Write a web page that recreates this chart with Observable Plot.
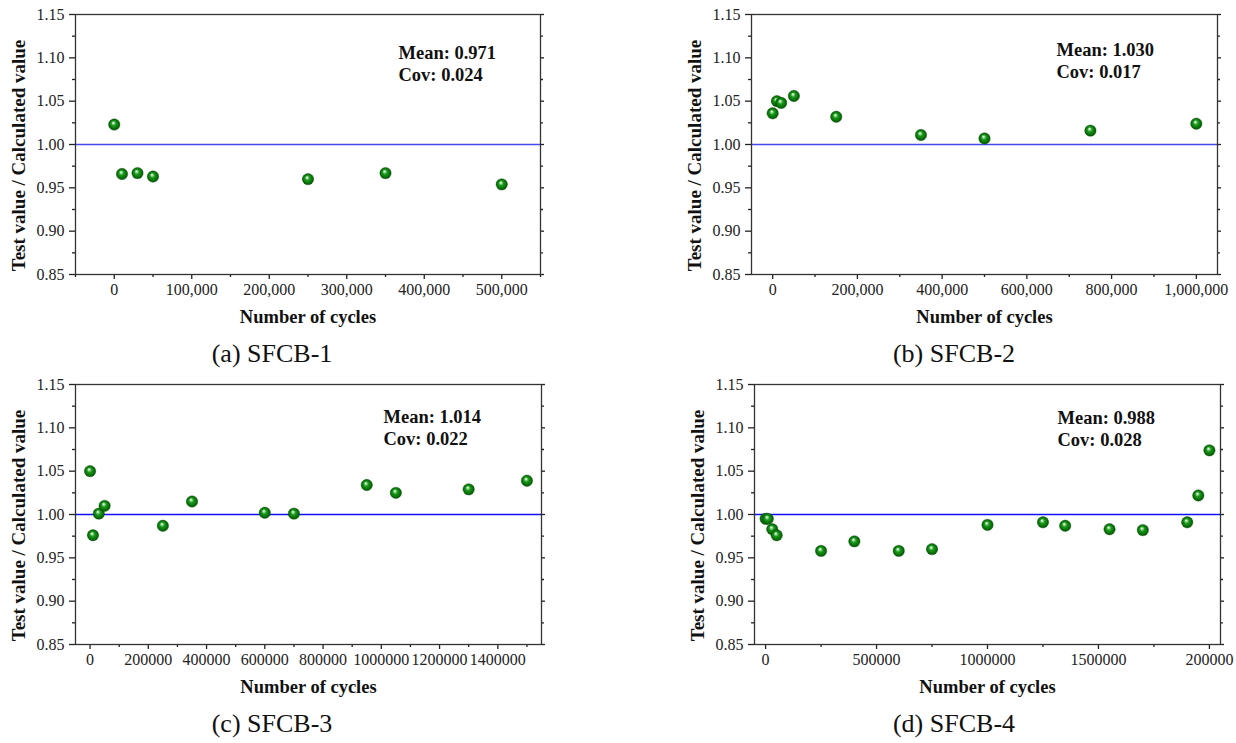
<!DOCTYPE html>
<html><head><meta charset="utf-8">
<script src="https://cdn.jsdelivr.net/npm/d3@7"></script>
<script src="https://cdn.jsdelivr.net/npm/@observablehq/plot@0.6"></script>
<style>
body{margin:0;background:#fff;}
#root{position:relative;width:1236px;height:743px;overflow:hidden;font-family:"Liberation Serif","Times New Roman",serif;background:#fff;}
.panel{position:absolute;width:618px;height:371px;}
.panel svg{position:absolute;left:0;top:0;overflow:visible;}
.caption{position:absolute;font-size:26px;color:#111;transform:translate(-50%,-50%);white-space:nowrap;line-height:1;}
</style></head><body>
<svg width="0" height="0" style="position:absolute">
<defs>
<radialGradient id="ball" cx="0.5" cy="0.5" r="0.5" fx="0.4" fy="0.33">
<stop offset="0" stop-color="#ffffff"/>
<stop offset="0.16" stop-color="#a8e0a8"/>
<stop offset="0.42" stop-color="#1a9a1a"/>
<stop offset="1" stop-color="#005800"/>
</radialGradient>
</defs></svg>
<div id="root"></div>
<script>
// ---- data ----
const cyclesA = [0, 10000, 30000, 50000, 250000, 350000, 500000];
const ratioA  = [1.023, 0.966, 0.967, 0.963, 0.960, 0.967, 0.954];

const cyclesB = [0, 10000, 20000, 50000, 150000, 350000, 500000, 750000, 1000000];
const ratioB  = [1.036, 1.050, 1.048, 1.056, 1.032, 1.011, 1.007, 1.016, 1.024];

const cyclesC = [0, 10000, 30000, 50000, 250000, 350000, 600000, 700000, 950000, 1050000, 1300000, 1500000];
const ratioC  = [1.050, 0.976, 1.001, 1.010, 0.987, 1.015, 1.002, 1.001, 1.034, 1.025, 1.029, 1.039];

const cyclesD = [0, 10000, 30000, 50000, 250000, 400000, 600000, 750000, 1000000, 1250000, 1350000, 1550000, 1700000, 1900000, 1950000, 2000000];
const ratioD  = [0.995, 0.995, 0.983, 0.976, 0.958, 0.969, 0.958, 0.960, 0.988, 0.991, 0.987, 0.983, 0.982, 0.991, 1.022, 1.074];

const stats = {
  a: {mean: "0.971", cov: "0.024"},
  b: {mean: "1.030", cov: "0.017"},
  c: {mean: "1.014", cov: "0.022"},
  d: {mean: "0.988", cov: "0.028"}
};
const captions = ["(a) SFCB-1", "(b) SFCB-2", "(c) SFCB-3", "(d) SFCB-4"];
const xTitle = "Number of cycles";
const yTitle = "Test value / Calculated value";
const refLine = [1.0];

const yDomain = [0.85, 1.15];
const yMajor = [0.85, 0.90, 0.95, 1.00, 1.05, 1.10, 1.15];
const yMinor = [0.875, 0.925, 0.975, 1.025, 1.075, 1.125];

const xDomainA = [-50000, 550000];
const xMajorA = [0, 100000, 200000, 300000, 400000, 500000];
const xMinorA = [-50000, 50000, 150000, 250000, 350000, 450000, 550000];
const xDomainB = [-50000, 1050000];
const xMajorB = [0, 200000, 400000, 600000, 800000, 1000000];
const xMinorB = [100000, 300000, 500000, 700000, 900000];
const xDomainC = [-50000, 1550000];
const xMajorC = [0, 200000, 400000, 600000, 800000, 1000000, 1200000, 1400000];
const xMinorC = [100000, 300000, 500000, 700000, 900000, 1100000, 1300000, 1500000];
const xDomainD = [-50000, 2050000];
const xMajorD = [0, 500000, 1000000, 1500000, 2000000];
const xMinorD = [250000, 750000, 1250000, 1750000];
const xLabelsD = ["0", "500000", "1000000", "1500000", "200000"];

// ---- drawing ----
const serif = "'Liberation Serif','Times New Roman',serif";
const blank = () => "";

function makePanel(cfg) {
  const data = cfg.cycles.map((c, i) => ({cycles: c, ratio: cfg.ratio[i]}));
  return Plot.plot({
    width: 618, height: 340,
    marginLeft: cfg.ml, marginRight: cfg.mr, marginTop: 14, marginBottom: 66,
    style: {fontFamily: serif, fontSize: "16px", color: "#222", background: "transparent", overflow: "visible"},
    x: {domain: cfg.xDomain},
    y: {domain: yDomain},
    marks: [
      Plot.ruleY(refLine, {stroke: cfg.lineColor, strokeWidth: 1.3}),
      Plot.axisY({ticks: yMajor, tickSize: 6, tickPadding: 5, tickFormat: d3.format(".2f"), label: null, color: "#222", strokeWidth: 1.3, fontSize: 16}),
      Plot.axisY({ticks: yMinor, tickSize: 3, tickFormat: blank, label: null, color: "#222", strokeWidth: 1.3}),
      Plot.axisY({anchor: "right", ticks: yMajor, tickSize: 3, tickFormat: blank, label: null, color: "#222", strokeWidth: 1.3}),
      Plot.axisY({anchor: "right", ticks: yMinor, tickSize: 2, tickFormat: blank, label: null, color: "#222", strokeWidth: 1.3}),
      Plot.axisX({ticks: cfg.xMajor, tickSize: 5, tickPadding: 4, tickFormat: cfg.xFormat, label: null, color: "#222", strokeWidth: 1.3, fontSize: 16}),
      Plot.axisX({ticks: cfg.xMinor, tickSize: 3, tickFormat: blank, label: null, color: "#222", strokeWidth: 1.3}),
      Plot.frame({stroke: "#333", strokeWidth: 1.3}),
      Plot.dot(data, {x: "cycles", y: "ratio", r: 5.7, fill: "url(#ball)", stroke: "#0a4d0a", strokeWidth: 0.4}),
      Plot.text([xTitle], {text: d => d, frameAnchor: "bottom", dy: 48, fontWeight: "bold", fontSize: 18.5, fill: "#111"}),
      Plot.text([yTitle], {text: d => d, frameAnchor: "left", textAnchor: "middle", lineAnchor: "middle", dx: -57, dy: 11, rotate: -90, fontWeight: "bold", fontSize: 19, fill: "#111"}),
      Plot.text([`Mean: ${cfg.stat.mean}`], {text: d => d, frameAnchor: "top-left", dx: cfg.ax, dy: cfg.ay, textAnchor: "start", fontWeight: "bold", fontSize: 18.5, fill: "#111"}),
      Plot.text([`Cov: ${cfg.stat.cov}`], {text: d => d, frameAnchor: "top-left", dx: cfg.ax, dy: cfg.ay + 22.5, textAnchor: "start", fontWeight: "bold", fontSize: 18.5, fill: "#111"})
    ]
  });
}

const comma = d3.format(",");
const plain = d3.format("d");
const panels = [
  {left: 0,   top: 0,   cycles: cyclesA, ratio: ratioA, xDomain: xDomainA, xMajor: xMajorA, xMinor: xMinorA, xFormat: comma, ml: 75,  mr: 78, lineColor: "#4747f0", stat: stats.a, ax: 323, ay: 31, cap: captions[0], capX: 272},
  {left: 618, top: 0,   cycles: cyclesB, ratio: ratioB, xDomain: xDomainB, xMajor: xMajorB, xMinor: xMinorB, xFormat: comma, ml: 133, mr: 19, lineColor: "#4747f0", stat: stats.b, ax: 305, ay: 28, cap: captions[1], capX: 336},
  {left: 0,   top: 370, cycles: cyclesC, ratio: ratioC, xDomain: xDomainC, xMajor: xMajorC, xMinor: xMinorC, xFormat: plain, ml: 75,  mr: 77, lineColor: "#1010ff", stat: stats.c, ax: 308, ay: 25, cap: captions[2], capX: 272},
  {left: 618, top: 370, cycles: cyclesD, ratio: ratioD, xDomain: xDomainD, xMajor: xMajorD, xMinor: xMinorD, xFormat: (d, i) => xLabelsD[i], ml: 136, mr: 16, lineColor: "#1010ff", stat: stats.d, ax: 303, ay: 26, cap: captions[3], capX: 336}
];

const root = document.getElementById("root");
for (const p of panels) {
  const div = document.createElement("div");
  div.className = "panel";
  div.style.left = p.left + "px";
  div.style.top = p.top + "px";
  div.appendChild(makePanel(p));
  const cap = document.createElement("div");
  cap.className = "caption";
  cap.textContent = p.cap;
  cap.style.left = p.capX + "px";
  cap.style.top = "354px";
  div.appendChild(cap);
  root.appendChild(div);
}
</script>
</body></html>
